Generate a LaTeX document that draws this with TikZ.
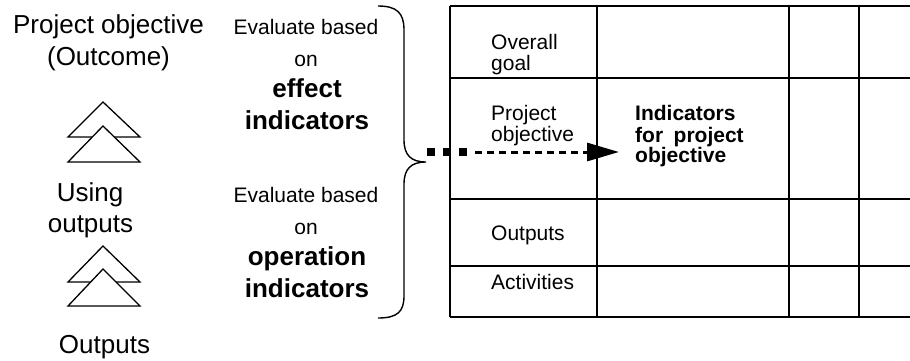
\documentclass[tikz,border=0pt]{standalone}
\usepackage{fontspec}
\setmainfont{Liberation Sans}
\usetikzlibrary{arrows.meta}
\begin{document}
\begin{tikzpicture}[x=1pt,y=-1pt,
  big/.style={font=\fontsize{26}{32}\selectfont, anchor=base, inner sep=0pt},
  mid/.style={font=\fontsize{21}{24}\selectfont, anchor=base, inner sep=0pt},
  bigbold/.style={font=\fontsize{26}{32}\selectfont\bfseries, anchor=base, inner sep=0pt},
  cell/.style={font=\fontsize{21}{21}\selectfont, anchor=base west, inner sep=0pt},
  cellbold/.style={font=\fontsize{21}{21}\selectfont\bfseries, anchor=base west, inner sep=0pt},
  tri/.style={draw, fill=white, line width=1.3pt, line join=miter},
  gridline/.style={line width=1.7pt},
  bracestyle/.style={line width=1.4pt},
]
\useasboundingbox (0,0) rectangle (910,360);

% left column texts
\node[big] (po1) at (108.5,33) {Project objective};
\node[big] (po2) at (108.5,65) {(Outcome)};
\node[big] (uo1) at (90,201) {Using};
\node[big] (uo2) at (90.5,232) {outputs};
\node[big] (out) at (104.5,353) {Outputs};

% triangles
\draw[tri] (103,102) -- (140,137) -- (68,137) -- cycle;
\draw[tri] (103,126) -- (140,162) -- (68,162) -- cycle;
\draw[tri] (103,246) -- (140,282) -- (68,282) -- cycle;
\draw[tri] (103,269) -- (140,306) -- (68,306) -- cycle;

% evaluate texts
\node[mid] (e1) at (306,34) {Evaluate based};
\node[mid] (e2) at (306,66) {on};
\node[bigbold] (e3) at (307,97) {effect};
\node[bigbold] (e4) at (307,129) {indicators};
\node[mid] (f1) at (306,202) {Evaluate based};
\node[mid] (f2) at (306,234) {on};
\node[bigbold] (f3) at (307,265) {operation};
\node[bigbold] (f4) at (307,297) {indicators};

% brace
\coordinate (tip) at (426,162);
\draw[bracestyle] (378,6) .. controls (397,6) and (404,13) .. (404,30) -- (404,140)
  .. controls (404,155) and (411,162) .. (tip)
  .. controls (411,162) and (404,169) .. (404,184) -- (404,296)
  .. controls (404,312) and (397,318) .. (378,318);

% table
\draw[gridline] (450,6) -- (910,6);
\draw[gridline] (450,78) -- (910,78);
\draw[gridline] (450,199) -- (910,199);
\draw[gridline] (450,266) -- (910,266);
\draw[gridline] (450,317) -- (910,317);
\draw[gridline] (450,6) -- (450,317);
\draw[gridline] (597,6) -- (597,317);
\draw[gridline] (789,6) -- (789,317);
\draw[gridline] (859,6) -- (859,317);

\node[cell] (og1) at (491,49) {Overall};
\node[cell] (og2) at (491,70) {goal};
\node[cell] (pj1) at (491,120.5) {Project};
\node[cell] (pj2) at (491,141.5) {objective};
\node[cell] (op) at (491,240.5) {Outputs};
\node[cell] (ac) at (491,289) {Activities};
\node[cellbold] (ind1) at (635,120.5) {Indicators};
\node[cellbold] (ind2) at (635,142) {for\hspace{0.5em}project};
\node[cellbold] (ind3) at (635,162.5) {objective};

% arrow
\coordinate (as) at (427,152);
\coordinate (am) at (467,152);
\coordinate (an) at (475,152);
\coordinate (ae) at (619,152);
\draw[line width=8pt, dash pattern=on 8pt off 8pt] (as) -- (am);
\draw[line width=3pt, dash pattern=on 7pt off 5pt, -{Triangle[length=32pt,width=18pt]}] (an) -- (ae);
\end{tikzpicture}
\end{document}
